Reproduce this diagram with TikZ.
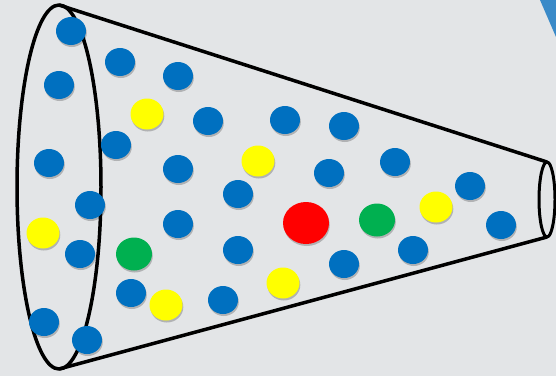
\documentclass[tikz,border=0pt]{standalone}
\usetikzlibrary{shapes.geometric,shadows}
\definecolor{SlideGray}{RGB}{227,229,231}
\definecolor{CornerBlue}{RGB}{58,138,200}
\definecolor{DotBlue}{RGB}{0,112,192}
\definecolor{DotYellow}{RGB}{255,255,0}
\definecolor{DotGreen}{RGB}{0,176,80}
\definecolor{DotRed}{RGB}{255,0,0}
\tikzset{
  rim/.style={draw=black, line width=3.5pt, line join=round},
  particle/.style={ellipse, inner sep=0pt, draw=none,
    drop shadow={shadow xshift=0.8pt, shadow yshift=-2pt, opacity=0.22, fill=black}},
  bluedot/.style={particle, fill=DotBlue, minimum width=30pt, minimum height=28pt},
  yellowdot/.style={particle, fill=DotYellow, minimum width=33pt, minimum height=31pt},
  greendot/.style={particle, fill=DotGreen, minimum width=36pt, minimum height=33pt},
  reddot/.style={particle, fill=DotRed, minimum width=46pt, minimum height=42pt}
}

\begin{document}
\begin{tikzpicture}[x=1pt, y=-1pt]
      \useasboundingbox[fill=SlideGray] (0,0) rectangle (556,376);
      \fill[CornerBlue] (540,0) -- (556,0) -- (556,37) -- cycle;
      % funnel outline
      \coordinate (mouthtop) at (59,5);
      \coordinate (mouthbot) at (59,369);
      \coordinate (spouttop) at (547,162);
      \coordinate (spoutbot) at (547,237);
      \draw[rim] (mouthtop) -- (spouttop);
      \draw[rim] (mouthbot) -- (spoutbot);
      \draw[rim] (59,187) ellipse [x radius=42pt, y radius=182pt];
      \draw[rim, line width=3pt] (547,199.5) ellipse [x radius=8pt, y radius=37.5pt];
      % particles
      \foreach \x/\y [count=\i] in {71/31, 120/62, 178/76, 59/85, 208/121, 285/120,
          344/126, 116/145, 49/163, 178/169, 395/162, 329/173, 238/194, 90/205,
          470/186, 178/224, 501/225, 80/254, 238/250, 413/250, 344/264, 131/293,
          223/300, 44/322, 87/340}
        \node[bluedot] (blue\i) at (\x,\y) {};
      \foreach \x/\y [count=\i] in {147/114, 258/161, 43/233, 436/207, 283/283, 166/305}
        \node[yellowdot] (yellow\i) at (\x,\y) {};
      \node[greendot] (green1) at (134,254) {};
      \node[greendot] (green2) at (377,220) {};
      \node[reddot] (red) at (306,223) {};
    \end{tikzpicture}
\end{document}
